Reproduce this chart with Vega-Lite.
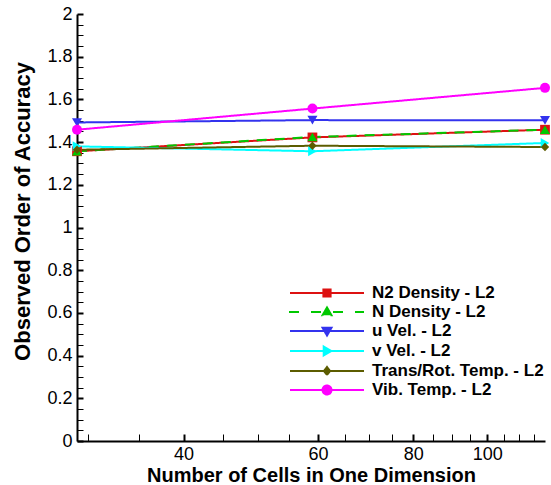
{
  "$schema": "https://vega.github.io/schema/vega-lite/v6.json",
  "autosize": "none",
  "width": 468,
  "height": 427,
  "padding": {"left": 77, "top": 14, "right": 6, "bottom": 44},
  "background": "white",
  "config": {
    "view": {"stroke": null},
    "font": "Liberation Sans",
    "axis": {
      "grid": false,
      "domainColor": "black",
      "domainWidth": 2,
      "tickColor": "black",
      "labelColor": "black",
      "titleColor": "black",
      "labelFont": "Liberation Sans",
      "titleFont": "Liberation Sans",
      "labelFontSize": 18,
      "titleFontSize": 20,
      "titleFontWeight": "bold"
    }
  },
  "data": {
    "values": [
      {"series": "N2 Density - L2", "cells": 29, "order": 1.357},
      {"series": "N2 Density - L2", "cells": 59, "order": 1.422},
      {"series": "N2 Density - L2", "cells": 119, "order": 1.458},
      {"series": "N Density - L2", "cells": 29, "order": 1.357},
      {"series": "N Density - L2", "cells": 59, "order": 1.424},
      {"series": "N Density - L2", "cells": 119, "order": 1.458},
      {"series": "u Vel. - L2", "cells": 29, "order": 1.492},
      {"series": "u Vel. - L2", "cells": 59, "order": 1.503},
      {"series": "u Vel. - L2", "cells": 119, "order": 1.502},
      {"series": "v Vel. - L2", "cells": 29, "order": 1.380},
      {"series": "v Vel. - L2", "cells": 59, "order": 1.357},
      {"series": "v Vel. - L2", "cells": 119, "order": 1.396},
      {"series": "Trans/Rot. Temp. - L2", "cells": 29, "order": 1.364},
      {"series": "Trans/Rot. Temp. - L2", "cells": 59, "order": 1.383},
      {"series": "Trans/Rot. Temp. - L2", "cells": 119, "order": 1.377},
      {"series": "Vib. Temp. - L2", "cells": 29, "order": 1.458},
      {"series": "Vib. Temp. - L2", "cells": 59, "order": 1.557},
      {"series": "Vib. Temp. - L2", "cells": 119, "order": 1.654}
    ]
  },
  "encoding": {
    "x": {
      "field": "cells",
      "type": "quantitative",
      "scale": {"type": "log", "domain": [29, 119], "nice": false},
      "axis": {
        "title": "Number of Cells in One Dimension",
        "values": [30, 35, 40, 45, 50, 55, 60, 65, 70, 75, 80, 85, 90, 95, 100, 105, 110, 115],
        "labelExpr": "datum.value % 20 === 0 ? format(datum.value, 'd') : ''",
        "tickSize": -7,
        "tickWidth": {"condition": {"test": "datum.value % 20 === 0", "value": 2}, "value": 1},
        "labelPadding": 11,
        "labelFlush": false,
        "titlePadding": 2
      }
    },
    "y": {
      "field": "order",
      "type": "quantitative",
      "scale": {"domain": [0, 2], "nice": false},
      "axis": {
        "title": "Observed Order of Accuracy",
        "values": [0, 0.05, 0.1, 0.15, 0.2, 0.25, 0.3, 0.35, 0.4, 0.45, 0.5, 0.55, 0.6, 0.65, 0.7, 0.75, 0.8, 0.85, 0.9, 0.95, 1, 1.05, 1.1, 1.15, 1.2, 1.25, 1.3, 1.35, 1.4, 1.45, 1.5, 1.55, 1.6, 1.65, 1.7, 1.75, 1.8, 1.85, 1.9, 1.95, 2],
        "labelExpr": "abs(datum.value * 5 - round(datum.value * 5)) < 0.001 ? format(datum.value, '~g') : ''",
        "tickSize": -6,
        "tickWidth": {"condition": {"test": "abs(datum.value * 5 - round(datum.value * 5)) < 0.001", "value": 2}, "value": 1},
        "labelPadding": 11,
        "labelFlush": false,
        "titleFontSize": 22,
        "titleX": -55,
        "titleY": 197,
        "titleAlign": "center",
        "titleBaseline": "middle",
        "titleAngle": -90
      }
    },
    "color": {
      "field": "series",
      "type": "nominal",
      "sort": null,
      "scale": {
        "domain": ["N2 Density - L2", "N Density - L2", "u Vel. - L2", "v Vel. - L2", "Trans/Rot. Temp. - L2", "Vib. Temp. - L2"],
        "range": ["#dd1111", "#00c800", "#3333ee", "#00ffff", "#5c5c00", "#ff00ff"]
      },
      "legend": {
        "title": null,
        "orient": "none",
        "legendX": 239,
        "legendY": 268,
        "padding": 0,
        "rowPadding": 0,
        "symbolSize": 400,
        "symbolStrokeWidth": 2,
        "labelOffset": 34,
        "labelFont": "Liberation Sans",
        "labelFontSize": 17,
        "labelFontWeight": "bold",
        "labelColor": "black",
        "labelLimit": 400,
        "encode": {
          "symbols": {
            "update": {
              "shape": {"signal": "datum.value === 'N2 Density - L2' ? 'M-3.7,0H3.7M-0.36,-0.36H0.36V0.36H-0.36Z' : datum.value === 'N Density - L2' ? 'M-3.8,0H-2.7M-1.6,0H-0.5M0.6,0H1.7M2.8,0H3.7M0,-0.45L0.45,0.33H-0.45Z' : datum.value === 'u Vel. - L2' ? 'M-3.7,0H3.7M0,0.45L0.45,-0.33H-0.45Z' : datum.value === 'v Vel. - L2' ? 'M-3.7,0H3.7M0.45,0L-0.33,0.45V-0.45Z' : datum.value === 'Trans/Rot. Temp. - L2' ? 'M-3.7,0H3.7M0,-0.4L0.3,0L0,0.4L-0.3,0Z' : 'M-3.7,0H3.7M-0.45,0A0.45,0.45 0 1 0 0.45,0A0.45,0.45 0 1 0 -0.45,0Z'"},
              "fill": {"scale": "color", "field": "value"},
              "stroke": {"scale": "color", "field": "value"},
              "strokeWidth": {"value": 2},
              "size": {"value": 400},
              "opacity": {"value": 1}
            }
          }
        }
      }
    }
  },
  "layer": [
    {
      "mark": {"type": "line", "strokeWidth": 2},
      "encoding": {
        "strokeDash": {
          "field": "series",
          "type": "nominal",
          "scale": {
            "domain": ["N2 Density - L2", "N Density - L2", "u Vel. - L2", "v Vel. - L2", "Trans/Rot. Temp. - L2", "Vib. Temp. - L2"],
            "range": [[1, 0], [10, 8], [1, 0], [1, 0], [1, 0], [1, 0]]
          },
          "legend": null
        }
      }
    },
    {"transform": [{"filter": "datum.series === 'N2 Density - L2'"}], "mark": {"type": "point", "shape": "square", "filled": true, "opacity": 1, "size": 95}},
    {"transform": [{"filter": "datum.series === 'N Density - L2'"}], "mark": {"type": "point", "shape": "triangle-up", "filled": true, "opacity": 1, "size": 100}},
    {"transform": [{"filter": "datum.series === 'u Vel. - L2'"}], "mark": {"type": "point", "shape": "triangle-down", "filled": true, "opacity": 1, "size": 100}},
    {"transform": [{"filter": "datum.series === 'v Vel. - L2'"}], "mark": {"type": "point", "shape": "triangle-right", "filled": true, "opacity": 1, "size": 100}},
    {"transform": [{"filter": "datum.series === 'Trans/Rot. Temp. - L2'"}], "mark": {"type": "point", "shape": "diamond", "filled": true, "opacity": 1, "size": 70}},
    {"transform": [{"filter": "datum.series === 'Vib. Temp. - L2'"}], "mark": {"type": "point", "shape": "circle", "filled": true, "opacity": 1, "size": 100}}
  ]
}
